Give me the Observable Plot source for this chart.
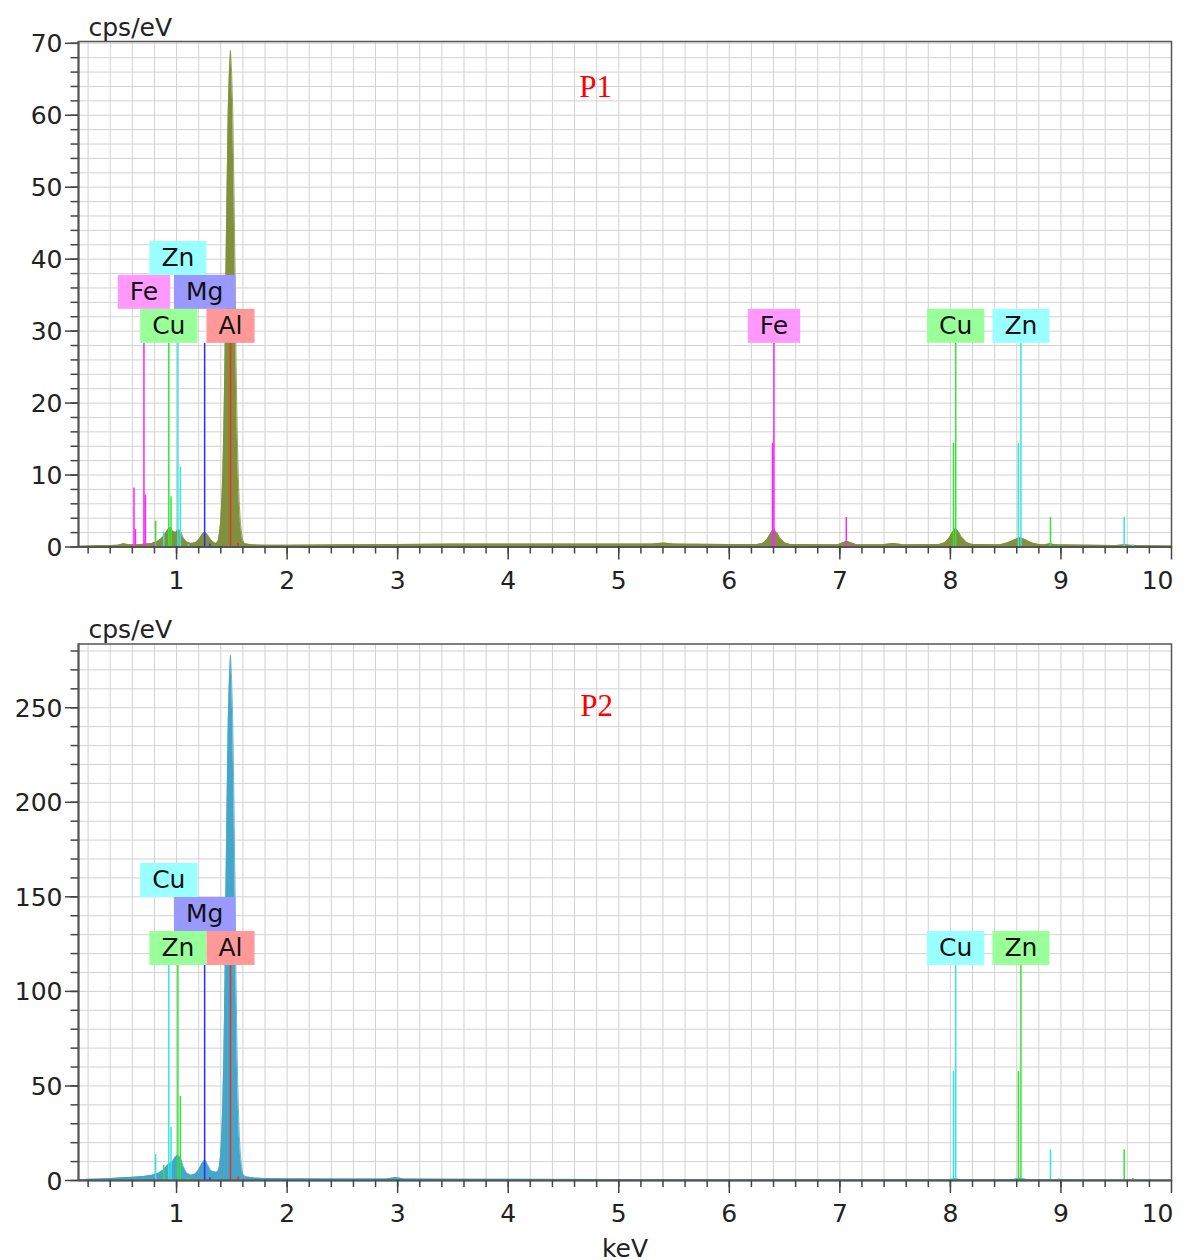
<!DOCTYPE html>
<html><head><meta charset="utf-8">
<script src="https://cdn.jsdelivr.net/npm/d3@7"></script>
<script src="https://cdn.jsdelivr.net/npm/@observablehq/plot@0.6"></script>
<style>
body{margin:0;background:#fff;}
#chart svg{display:block;}
</style></head><body><div id="chart"></div>
<script>
// ---------- tick values / labels ----------
const xMajorTicks = [1,2,3,4,5,6,7,8,9,10];
const xTickLabels = ["1","2","3","4","5","6","7","8","9","10"];
const y1MajorTicks = [0,10,20,30,40,50,60,70];
const y1TickLabels = ["0","10","20","30","40","50","60","70"];
const y2MajorTicks = [0,50,100,150,200,250];
const y2TickLabels = ["0","50","100","150","200","250"];

// ---------- spectrum P1 (keV, cps/eV) ----------
const spectrum1 = [
 [0.11,0.1],[0.2,0.15],[0.3,0.2],[0.4,0.2],[0.47,0.25],[0.52,0.45],[0.57,0.3],[0.65,0.3],[0.72,0.4],
 [0.78,0.5],[0.83,0.8],[0.87,1.3],[0.9,1.9],[0.925,2.5],[0.945,2.7],[0.965,2.2],[0.99,2.0],[1.015,2.4],
 [1.035,2.2],[1.06,1.3],[1.09,0.7],[1.13,0.5],[1.17,0.6],[1.2,1.0],[1.23,1.7],[1.255,2.1],[1.28,1.7],
 [1.31,1.0],[1.34,0.6],[1.36,0.5],[1.378,0.9],[1.388,1.9],[1.398,3.3],[1.408,5.8],[1.418,10],[1.428,16.5],
 [1.438,26],[1.448,40],[1.458,51],[1.468,61],[1.478,66],[1.488,69],[1.498,66],[1.508,61],[1.518,51],
 [1.528,40],[1.538,26],[1.548,16.5],[1.558,10],[1.568,5.8],[1.578,3.3],[1.588,1.9],[1.598,0.9],[1.618,0.45],
 [1.68,0.3],[1.8,0.25],[2.0,0.25],[2.5,0.3],[3.0,0.35],[3.5,0.4],[4.0,0.4],[4.5,0.4],[5.0,0.4],[5.3,0.4],
 [5.41,0.55],[5.5,0.4],[6.0,0.35],[6.25,0.35],[6.3,0.5],[6.34,1.0],[6.37,1.8],[6.40,2.5],[6.43,2.0],
 [6.46,1.2],[6.5,0.6],[6.55,0.35],[6.98,0.3],[7.03,0.6],[7.06,0.8],[7.1,0.6],[7.15,0.3],[7.38,0.3],
 [7.48,0.5],[7.58,0.3],[7.9,0.35],[7.95,0.6],[7.99,1.3],[8.02,2.1],[8.045,2.6],[8.07,2.2],[8.1,1.4],
 [8.15,0.6],[8.2,0.35],[8.45,0.3],[8.52,0.6],[8.58,1.0],[8.63,1.3],[8.68,1.0],[8.74,0.55],[8.8,0.35],
 [8.85,0.3],[8.9,0.45],[8.95,0.3],[9.5,0.2],[9.57,0.3],[9.65,0.2],[10,0.15]
];

// ---------- spectrum P2 ----------
const spectrum2 = [
 [0.11,0.3],[0.2,0.6],[0.3,0.8],[0.4,1.0],[0.5,1.4],[0.6,1.7],[0.7,2.1],[0.78,2.8],[0.84,4],[0.88,5.5],
 [0.91,7.5],[0.935,9],[0.96,9.5],[0.985,12],[1.01,13.5],[1.035,12],[1.06,7.5],[1.09,4],[1.13,2.8],
 [1.17,3.5],[1.2,5.5],[1.23,9],[1.255,10.8],[1.28,8.5],[1.31,5.2],[1.34,4.5],[1.36,4.3],[1.378,5],
 [1.388,7.5],[1.398,13],[1.408,23],[1.418,40],[1.428,66],[1.438,105],[1.448,160],[1.458,205],[1.468,244],
 [1.478,265],[1.488,277.6],[1.498,265],[1.508,244],[1.518,205],[1.528,160],[1.538,105],[1.548,66],
 [1.558,40],[1.568,23],[1.578,13],[1.588,7.5],[1.598,3.6],[1.62,2],[1.7,1.3],[1.8,1.0],[2.0,0.9],
 [2.5,0.8],[2.9,0.8],[2.98,1.6],[3.06,0.8],[3.5,0.7],[4.0,0.6],[5.0,0.5],[6.0,0.4],[7.0,0.35],
 [7.98,0.35],[8.04,0.9],[8.1,0.35],[8.56,0.4],[8.63,1.2],[8.7,0.4],[9.5,0.25],[10,0.2]
];

// ---------- element marker lines [element, keV, height] ----------
const lines1 = [
 ["Fe",0.615,8.2],["Fe",0.628,2.4],["Fe",0.705,28.3],["Fe",0.718,7.2],["Fe",0.79,0.6],
 ["Fe",6.391,14.4],["Fe",6.404,28.3],["Fe",7.058,4.1],["Fe",7.11,0.3],
 ["Cu",0.811,3.6],["Cu",0.930,28.3],["Cu",0.950,7.0],["Cu",8.028,14.4],["Cu",8.048,28.3],["Cu",8.905,4.1],["Cu",8.98,0.3],
 ["Zn",0.884,2.1],["Zn",1.012,28.3],["Zn",1.034,11.1],["Zn",1.107,0.3],["Zn",8.615,14.4],["Zn",8.638,28.3],["Zn",9.572,4.1],["Zn",9.65,0.3],
 ["Mg",1.254,28.3],["Mg",1.302,0.4],
 ["Al",1.488,28.3],["Al",1.557,0.5]
];
const lines2 = [
 ["Cu",0.811,13.7],["Cu",0.930,113.7],["Cu",0.950,28.2],["Cu",8.028,57.6],["Cu",8.048,113.7],["Cu",8.905,16.2],["Cu",8.98,1.0],
 ["Zn",0.884,8],["Zn",1.012,113.7],["Zn",1.034,44.4],["Zn",1.107,1.2],["Zn",8.615,57.6],["Zn",8.638,113.7],["Zn",9.572,16.2],["Zn",9.65,1.0],
 ["Mg",1.254,113.7],["Mg",1.302,1.5],
 ["Al",1.488,113.7],["Al",1.557,2.0]
];

// ---------- element labels [element, keV, stack row] ----------
const labels1 = [["Cu",0.930,0],["Al",1.488,0],["Fe",0.705,1],["Mg",1.254,1],["Zn",1.012,2],
                 ["Fe",6.404,0],["Cu",8.048,0],["Zn",8.638,0]];
const labels2 = [["Zn",1.012,0],["Al",1.488,0],["Mg",1.254,1],["Cu",0.930,2],
                 ["Cu",8.048,0],["Zn",8.638,0]];
const labelTop1 = 28.3, labelTop2 = 113.7;

// ---------- annotations ----------
const ann1 = [[4.79,62.5,"P1"]];
const ann2 = [[4.80,245.4,"P2"]];

// ---------- styles ----------
const lineColors1 = {Fe:"#ff22ff",Cu:"#33e633",Zn:"#33e6e6",Mg:"#2b2bff",Al:"#e8302a"};
const lineColors2 = {Fe:"#ff22ff",Cu:"#33e6e6",Zn:"#33e633",Mg:"#2b2bff",Al:"#e8302a"};
const boxColors1 = {Fe:"#ff99ff",Cu:"#99ff99",Zn:"#99ffff",Mg:"#9999ff",Al:"#ff9999"};
const boxColors2 = {Fe:"#ff99ff",Cu:"#99ffff",Zn:"#99ff99",Mg:"#9999ff",Al:"#ff9999"};

const xGrid = d3.range(1, 50).map(i => i / 5);
const xMinor = xGrid;
const FONT = "DejaVu Sans";

function panel(cfg) {
  const marks = [
    Plot.ruleX(xGrid, {x: d => d, stroke: "#d2d2d2", strokeWidth: 1}),
    Plot.ruleY(cfg.yGrid, {y: d => d, stroke: "#d2d2d2", strokeWidth: 1}),
    Plot.areaY(cfg.spectrum, {x: d => d[0], y: d => d[1], fill: cfg.fill, curve: "linear"}),
    Plot.line(cfg.spectrum, {x: d => d[0], y: d => d[1], stroke: cfg.fill, strokeWidth: 0.8}),
    Plot.ruleX(cfg.lines, {x: d => d[1], y1: 0, y2: d => d[2], stroke: d => cfg.lineColors[d[0]], strokeWidth: 1.5}),
    Plot.frame({stroke: "#555", strokeWidth: 1.5}),
    Plot.ruleX([cfg.xDomain[0]], {stroke: "#555", strokeWidth: 2}),
    Plot.ruleY([0], {stroke: "#555", strokeWidth: 2}),
    Plot.axisX(xMinor, {tickSize: 7, tickFormat: () => "", label: null, stroke: "#444", strokeWidth: 1.5}),
    Plot.axisX(xMajorTicks, {tickSize: 13, tickFormat: () => "", label: null, stroke: "#444", strokeWidth: 1.5}),
    Plot.axisY(cfg.yMinor, {tickSize: 7.5, tickFormat: () => "", label: null, stroke: "#444", strokeWidth: 1.5}),
    Plot.axisY(cfg.yMajor, {tickSize: 13, tickFormat: () => "", label: null, stroke: "#444", strokeWidth: 1.5}),
    Plot.text(xMajorTicks.slice(0, 9), {x: d => d, text: (d, i) => xTickLabels[i], frameAnchor: "bottom", lineAnchor: "bottom", dy: 41.5, fontSize: 25, fill: "#222"}),
    Plot.text(xMajorTicks.slice(9), {x: d => d, text: (d, i) => xTickLabels[9 + i], frameAnchor: "bottom", lineAnchor: "bottom", textAnchor: "end", dy: 41.5, dx: 2, fontSize: 25, fill: "#222"}),
    Plot.text(cfg.yMajor, {y: d => d, text: (d, i) => cfg.yLabels[i], frameAnchor: "left", textAnchor: "end", dx: -16, dy: 1, fontSize: 25, fill: "#222"}),
    Plot.text(["cps/eV"], {frameAnchor: "top-left", textAnchor: "start", lineAnchor: "bottom", dx: 10, dy: -6, fontSize: 25, fill: "#222"}),
    Plot.text(cfg.ann, {x: d => d[0], y: d => d[1], text: d => d[2], fill: "#ff0000", fontFamily: "Liberation Serif", fontSize: 31, lineAnchor: "bottom"})
  ];
  for (const row of [0, 1, 2]) {
    const rows = cfg.labels.filter(d => d[2] === row);
    if (!rows.length) continue;
    marks.push(Plot.text(rows, {x: d => d[1], y: () => cfg.labelTop, text: d => d[0], dy: -(17 + 34 * row),
      lineAnchor: "middle", fontSize: 25, fill: "#111", ariaDescription: cfg.id + "-row" + row}));
  }
  if (cfg.extra) marks.push(...cfg.extra);
  return Plot.plot({
    width: 1184, height: cfg.height,
    marginLeft: 78, marginRight: 13, marginTop: cfg.marginTop, marginBottom: cfg.marginBottom,
    x: {domain: cfg.xDomain},
    y: {domain: cfg.yDomain},
    color: {type: "identity"},
    style: {fontFamily: FONT, fontSize: "25px", background: "#fff", color: "#222", overflow: "visible"},
    marks
  });
}

function addBoxes(svg, cfg) {
  for (const row of [0, 1, 2]) {
    const rows = cfg.labels.filter(d => d[2] === row);
    if (!rows.length) continue;
    let g = svg.querySelector(`g[aria-description="${cfg.id}-row${row}"]`);
    let texts;
    if (g) {
      texts = Array.from(g.querySelectorAll("text"));
    } else {
      // fallback: find label texts by content among all texts
      texts = [];
      const all = Array.from(svg.querySelectorAll("text"));
      rows.forEach(d => {
        const t = all.find(n => n.textContent === d[0] && !texts.includes(n));
        if (t) texts.push(t);
      });
    }
    texts.forEach((t, i) => {
      if (!rows[i]) return;
      const b = t.getBBox();
      const r = document.createElementNS("http://www.w3.org/2000/svg", "rect");
      const cy = b.y + b.height / 2;
      r.setAttribute("x", b.x - 12);
      r.setAttribute("y", cy - 17);
      r.setAttribute("width", b.width + 24);
      r.setAttribute("height", 34);
      r.setAttribute("fill", cfg.boxColors[rows[i][0]]);
      r.setAttribute("stroke", "none");
      const tr = t.getAttribute("transform");
      if (tr) r.setAttribute("transform", tr);
      t.parentNode.insertBefore(r, t);
    });
  }
}

const cfg1 = {
  id: "p1", height: 600, marginTop: 41, marginBottom: 53.5,
  xDomain: [0.113, 10], yDomain: [0, 70.25],
  yGrid: d3.range(2, 71, 2), yMinor: d3.range(0, 71, 2), yMajor: y1MajorTicks, yLabels: y1TickLabels,
  spectrum: spectrum1, fill: "#80903c", lines: lines1, lineColors: lineColors1,
  labels: labels1, labelTop: labelTop1, boxColors: boxColors1, ann: ann1
};
const cfg2 = {
  id: "p2", height: 660, marginTop: 43.5, marginBottom: 80,
  xDomain: [0.113, 10], yDomain: [0, 283.7],
  yGrid: d3.range(10, 284, 10), yMinor: d3.range(0, 284, 10), yMajor: y2MajorTicks, yLabels: y2TickLabels,
  spectrum: spectrum2, fill: "#45a6c9", lines: lines2, lineColors: lineColors2,
  labels: labels2, labelTop: labelTop2, boxColors: boxColors2, ann: ann2,
  extra: [Plot.text(["keV"], {frameAnchor: "bottom", lineAnchor: "bottom", dy: 76, fontSize: 25, fill: "#222"})]
};

const chart = document.getElementById("chart");
const svg1 = panel(cfg1); chart.appendChild(svg1); addBoxes(svg1, cfg1);
const svg2 = panel(cfg2); chart.appendChild(svg2); addBoxes(svg2, cfg2);
</script></body></html>
